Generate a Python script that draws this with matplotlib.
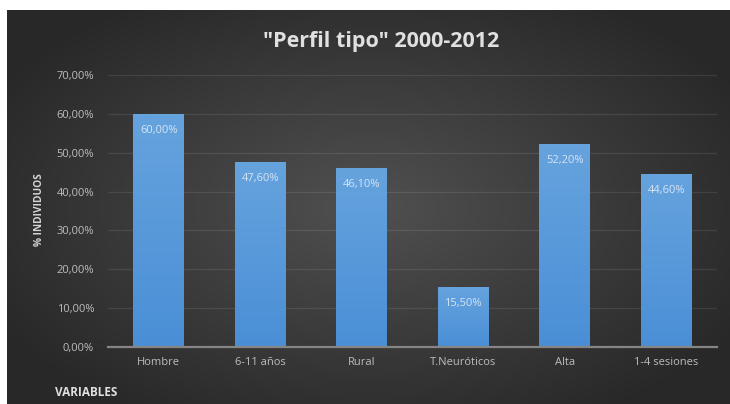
import numpy as np
import matplotlib.pyplot as plt

# Perfil tipo 2000-2012: porcentaje de individuos por variable
categorias = ["Hombre", "6-11 años", "Rural", "T.Neuróticos", "Alta", "1-4 sesiones"]
porcentajes = [60.00, 47.60, 46.10, 15.50, 52.20, 44.60]
yticks = [0, 10, 20, 30, 40, 50, 60, 70]


def fmt_pct(v):
    return f"{v:.2f}".replace(".", ",") + "%"


plt.rcParams['font.family'] = ['Open Sans', 'DejaVu Sans']

fig = plt.figure(figsize=(7.3, 4.04), dpi=100)
fig.patch.set_facecolor("white")

# fondo oscuro con degradado radial
bg = fig.add_axes([7 / 730, 0, 1 - 7 / 730, 1 - 10 / 404])
bg.set_axis_off()
yy, xx = np.mgrid[-1:1:200j, -1:1:360j]
r = np.sqrt((xx * 0.95) ** 2 + (yy * 0.9) ** 2)
shade = np.clip(0.315 - 0.14 * r, 0.16, 0.32)
bg.imshow(np.dstack([shade] * 3), aspect="auto", extent=[0, 1, 0, 1], interpolation="bicubic")
bg.set_xlim(0, 1)
bg.set_ylim(0, 1)

# área de trazado
W, H = 730, 404
left, right, bottom, top = 108, 717, 347, 75
ax = fig.add_axes([left / W, 1 - bottom / H, (right - left) / W, (bottom - top) / H])
ax.set_facecolor("none")

x = np.arange(len(categorias))
bars = ax.bar(x, porcentajes, width=0.5, color="#5699db", zorder=3)

# degradado vertical en cada barra
grad = np.linspace(0, 1, 100).reshape(-1, 1)
c_top = np.array([0.40, 0.64, 0.87])
c_bot = np.array([0.29, 0.56, 0.84])
img = c_bot + (c_top - c_bot) * grad
for b in bars:
    bx, bw, bh = b.get_x(), b.get_width(), b.get_height()
    im = ax.imshow(img.reshape(100, 1, 3), extent=[bx, bx + bw, 0, bh], origin="lower",
                   aspect="auto", zorder=4)
    im.set_clip_path(b)

for xi, v in zip(x, porcentajes):
    ax.annotate(fmt_pct(v), (xi, v), xytext=(0, -12), textcoords="offset points",
                ha="center", va="center", fontsize=8, color="#d6e4f3", zorder=5)

ax.set_xlim(-0.5, len(categorias) - 0.5)
ax.set_ylim(0, 70)
ax.set_yticks(yticks)
ax.set_yticklabels([fmt_pct(t) for t in yticks])
ax.set_xticks(x)
ax.set_xticklabels(categorias)
ax.tick_params(axis="both", length=0, colors="#bdbdbd", labelsize=8)
ax.tick_params(axis="y", pad=10)
ax.tick_params(axis="x", pad=7)

ax.grid(axis="y", color="white", alpha=0.09, linewidth=0.9, zorder=0)
ax.set_axisbelow(True)
for s in ["top", "right", "left"]:
    ax.spines[s].set_visible(False)
ax.spines["bottom"].set_color("#858585")
ax.spines["bottom"].set_linewidth(1.6)
ax.spines["bottom"].set_zorder(6)

fig.text(381 / W, 1 - 42 / H, "\"Perfil tipo\" 2000-2012", ha="center", va="center",
         fontsize=15.5, fontweight="bold", color="#e0e0e0")
fig.text(40 / W, 1 - 210 / H, "% INDIVIDUOS", rotation=90, ha="center", va="center",
         fontsize=7.3, fontweight="bold", color="#d4d4d4")
fig.text(55 / W, 1 - 393 / H, "VARIABLES", ha="left", va="center",
         fontsize=8.5, fontweight="bold", color="#e0e0e0")

fig.savefig("out.png", dpi=100, facecolor=fig.get_facecolor())
